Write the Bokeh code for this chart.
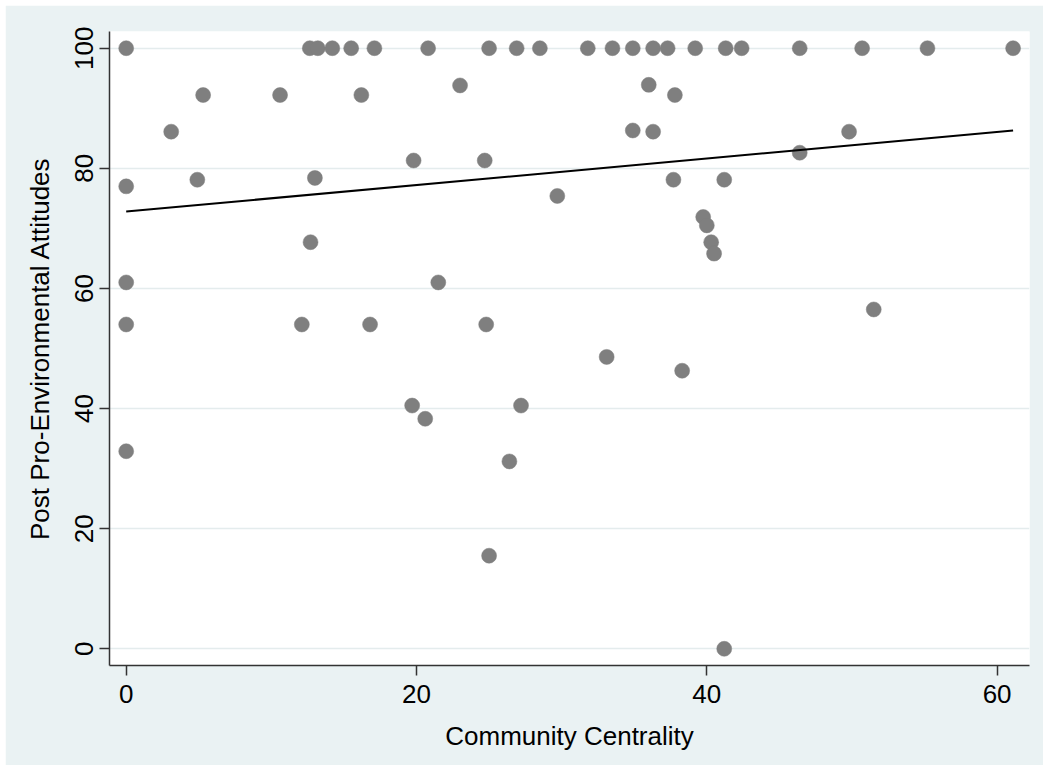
from bokeh.plotting import figure
from bokeh.models import Range1d, FixedTicker, ColumnDataSource
from bokeh.embed import file_html
from bokeh.resources import INLINE

# Community centrality (x) and post pro-environmental attitudes (y)
centrality = [0, 0, 0, 0, 0, 3.1, 4.9, 5.3, 10.6, 12.1, 12.65, 12.7, 13.2, 13.0, 14.2,
              15.5, 16.2, 16.8, 17.1, 19.7, 19.8, 20.6, 20.8, 21.5, 23.0, 24.7, 24.8,
              25.0, 25.0, 26.4, 26.9, 27.2, 28.5, 29.7, 31.8, 33.1, 33.5, 34.9, 34.9,
              36.0, 36.3, 36.3, 37.3, 37.7, 37.8, 38.3, 39.2, 39.75, 40.0, 40.3, 40.5,
              41.2, 41.2, 41.3, 42.4, 46.4, 46.4, 49.8, 50.7, 51.5, 55.2, 61.1]
attitudes = [100, 77, 61, 54, 32.9, 86.1, 78.1, 92.2, 92.2, 54, 100, 67.7, 100, 78.4, 100,
             100, 92.2, 54, 100, 40.5, 81.3, 38.3, 100, 61, 93.8, 81.3, 54,
             100, 15.5, 31.2, 100, 40.5, 100, 75.4, 100, 48.6, 100, 100, 86.3,
             93.9, 100, 86.1, 100, 78.1, 92.2, 46.3, 100, 71.9, 70.5, 67.7, 65.8,
             0, 78.1, 100, 100, 100, 82.6, 86.1, 100, 56.5, 100, 100]

# Linear fit line (endpoints)
fit_x = [0, 61.1]
fit_y = [72.8, 86.3]

x_ticks = [0, 20, 40, 60]
y_ticks = [0, 20, 40, 60, 80, 100]

FONT = "Liberation Sans"

p = figure(width=1038, height=760, output_backend="svg", toolbar_location=None,
           x_range=Range1d(-1.15, 62.23), y_range=Range1d(-2.78, 102.78),
           min_border_left=104, min_border_right=14, min_border_top=26, min_border_bottom=100)
p.margin = (5, 0, 0, 5)

p.background_fill_color = "white"
p.border_fill_color = "#EAF2F3"
p.outline_line_color = None

src = ColumnDataSource(dict(x=centrality, y=attitudes))
p.scatter("x", "y", source=src, size=15, fill_color="#7F7F7F", line_color="#7F7F7F",
          line_width=0.5)
p.line(fit_x, fit_y, line_color="black", line_width=2)

p.xgrid.grid_line_color = None
p.ygrid.grid_line_color = "#E4ECED"
p.ygrid.grid_line_width = 1.5
p.ygrid.ticker = FixedTicker(ticks=y_ticks)

p.xaxis.ticker = FixedTicker(ticks=x_ticks)
p.yaxis.ticker = FixedTicker(ticks=y_ticks)

for ax in (p.xaxis[0], p.yaxis[0]):
    ax.axis_line_color = "#333333"
    ax.axis_line_width = 1.5
    ax.major_tick_line_color = "#333333"
    ax.major_tick_line_width = 1.5
    ax.major_tick_out = 10
    ax.major_tick_in = 0
    ax.minor_tick_line_color = None
    ax.major_label_text_font = FONT
    ax.major_label_text_font_size = "26px"
    ax.major_label_text_color = "black"
    ax.axis_label_text_font = FONT
    ax.axis_label_text_font_size = "26px"
    ax.axis_label_text_font_style = "normal"
    ax.axis_label_text_color = "black"

p.xaxis.axis_label = "Community Centrality"
p.yaxis.axis_label = "Post Pro-Environmental Attitudes"
p.yaxis.major_label_orientation = "vertical"
p.xaxis.major_label_standoff = 9
p.yaxis.major_label_standoff = 6
p.xaxis.axis_label_standoff = 15
p.yaxis.axis_label_standoff = 18

open("out.html", "w").write(file_html(p, INLINE))
